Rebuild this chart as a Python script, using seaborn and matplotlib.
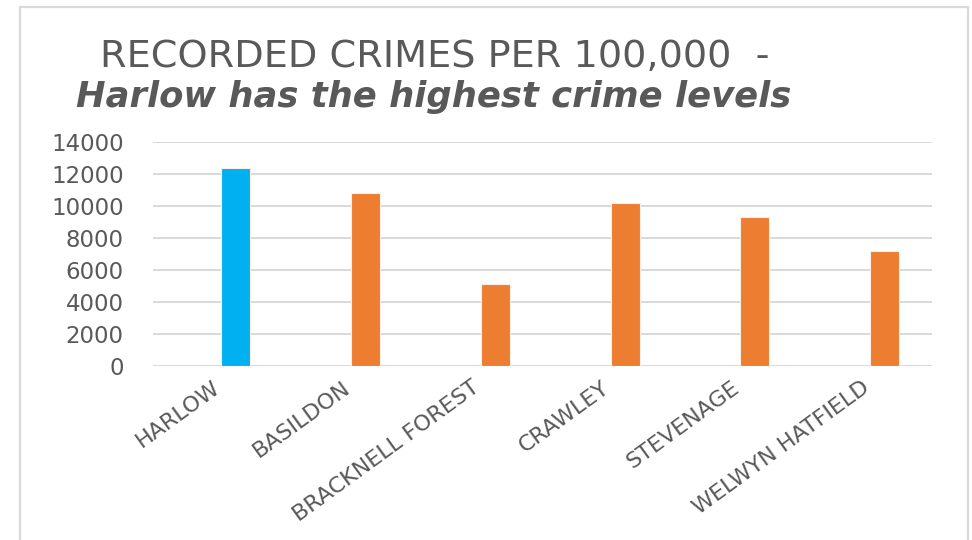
import matplotlib
matplotlib.use("Agg")
import matplotlib.pyplot as plt
from matplotlib.patches import Rectangle
import seaborn as sns

# Recorded crimes per 100,000 population by district
districts = ["HARLOW", "BASILDON", "BRACKNELL FOREST", "CRAWLEY", "STEVENAGE", "WELWYN HATFIELD"]
crimes = [12400, 10830, 5100, 10170, 9330, 7190]
highlight = "HARLOW"

y_ticks = [0, 2000, 4000, 6000, 8000, 10000, 12000, 14000]

BLUE = "#00B0F0"
ORANGE = "#ED7D31"
GREY_TEXT = "#595959"
GRID = "#D9D9D9"

sns.set_theme(style="white")
plt.rcParams["font.family"] = ["DejaVu Sans"]

fig = plt.figure(figsize=(9.72, 5.4), dpi=100)
ax = fig.add_axes([0.1574, 0.3222, 0.8014, 0.4148])

palette = {d: (BLUE if d == highlight else ORANGE) for d in districts}
sns.barplot(x=districts, y=crimes, hue=districts, palette=palette, legend=False,
            width=0.223, edgecolor="#FDEEE4", linewidth=0.8, saturation=1, ax=ax, zorder=3)

# bars sit to the right of each category slot, as in a two-series layout
for p in ax.patches:
    p.set_x(p.get_x() + 0.136)

ax.set_xlim(-0.5, len(districts) - 0.5)
ax.set_ylim(0, 14000)
ax.set_yticks(y_ticks)
ax.set_yticklabels([str(v) for v in y_ticks])
ax.yaxis.grid(True, color=GRID, linewidth=1.4, zorder=0)
ax.xaxis.grid(False)
ax.set_axisbelow(True)
for s in ax.spines.values():
    s.set_visible(False)

ax.tick_params(axis="y", length=0, pad=21, labelsize=16.5, labelcolor=GREY_TEXT)
ax.tick_params(axis="x", length=0, pad=14, labelsize=16, labelcolor=GREY_TEXT)
for lab in ax.get_xticklabels():
    lab.set_rotation(36)
    lab.set_ha("right")
    lab.set_va("center")
    lab.set_rotation_mode("anchor")
ax.set_xlabel("")
ax.set_ylabel("")

fig.text(435 / 972, 1 - 67 / 540, "RECORDED CRIMES PER 100,000  -", ha="center",
         va="baseline", fontsize=27.5, color=GREY_TEXT)
fig.text(434 / 972, 1 - 107 / 540, "Harlow has the highest crime levels", ha="center",
         va="baseline", fontsize=25.5, color=GREY_TEXT, fontweight="bold", fontstyle="italic")

# outer chart frame
fig.patches.append(Rectangle((20 / 972, -0.05), (968 - 20) / 972, 1.05 - 7 / 540,
                             transform=fig.transFigure, fill=False,
                             edgecolor=GRID, linewidth=1.6, zorder=0))

fig.savefig("out.png", dpi=100, facecolor="white")
